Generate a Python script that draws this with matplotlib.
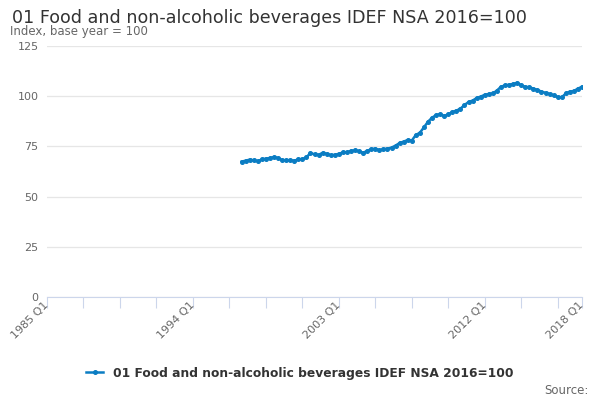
import matplotlib
matplotlib.use("Agg")
import matplotlib.pyplot as plt
import matplotlib.transforms as mtransforms
import numpy as np

title = "01 Food and non-alcoholic beverages IDEF NSA 2016=100"
subtitle = "Index, base year = 100"
series_name = "01 Food and non-alcoholic beverages IDEF NSA 2016=100"

start_year, start_q = 1997, 1
values = [67.4, 67.9, 68.4, 68.0, 67.7, 68.5, 68.9, 69.2, 69.7, 69.2,
          68.2, 68.0, 68.0, 67.9, 68.5, 68.7, 69.5, 71.8, 71.0, 70.8,
          71.8, 71.3, 70.6, 70.8, 71.3, 72.0, 72.0, 72.8, 73.0, 72.6,
          71.8, 72.8, 73.6, 73.9, 73.1, 73.6, 73.9, 74.4, 75.4, 76.7,
          77.4, 78.2, 77.9, 80.7, 81.8, 84.5, 87.3, 89.3, 90.6, 91.1,
          90.1, 91.0, 92.1, 92.8, 93.8, 95.6, 97.1, 97.8, 99.1, 99.8,
          100.7, 101.1, 101.4, 102.8, 104.7, 105.4, 105.7, 106.1, 106.7, 105.4,
          104.7, 104.4, 103.8, 103.1, 102.3, 101.7, 101.1, 100.4, 99.6, 99.4,
          101.4, 102.3, 102.6, 103.8, 104.7]

axis_start = (1985, 1)
axis_end = (2018, 1)
labelled_ticks = ["1985 Q1", "1994 Q1", "2003 Q1", "2012 Q1", "2018 Q1"]
y_ticks = [0, 25, 50, 75, 100, 125]

def qidx(y, q):
    return (y - axis_start[0]) * 4 + (q - axis_start[1])

x0 = qidx(start_year, start_q)
xs = np.arange(x0, x0 + len(values))
xend = qidx(*axis_end)

fig = plt.figure(figsize=(6, 4), dpi=100)
ax = fig.add_axes([47/600, 1-297/400, (582-47)/600, (297-46)/400])

color = "#0b7dc3"
ax.plot(xs, values, color=color, lw=1.8, marker="o", ms=2.6, label=series_name, zorder=3)

ax.set_xlim(0, xend)
ax.set_ylim(0, 125)
ax.set_yticks(y_ticks)
ax.set_yticklabels([str(v) for v in y_ticks])
ax.grid(axis="y", color="#e6e6e6", lw=0.9)
ax.set_axisbelow(True)
for s in ["top", "right", "left"]:
    ax.spines[s].set_visible(False)
ax.spines["bottom"].set_color("#ccd6eb")
ax.tick_params(axis="y", length=0, labelsize=8, labelcolor="#666666", pad=6)

minor = list(range(0, xend, 9)) + [xend]
ax.set_xticks(minor)
lab = []
for t in minor:
    yr = axis_start[0] + t // 4
    q = t % 4 + 1
    s = f"{yr} Q{q}"
    lab.append(s if s in labelled_ticks else "")
ax.set_xticklabels(lab, rotation=45, ha="right", rotation_mode="anchor")
ax.tick_params(axis="x", length=8, color="#ccd6eb", labelsize=8, labelcolor="#666666", pad=-2)
offset = mtransforms.ScaledTranslation(-4/100, 5/100, fig.dpi_scale_trans)
for lbl in ax.get_xticklabels():
    lbl.set_transform(lbl.get_transform() + offset)

fig.text(12/600, 1-18/400, title, fontsize=12.6, color="#333333", va="center", ha="left")
fig.text(10/600, 1-32/400, subtitle, fontsize=8.5, color="#666666", va="center", ha="left")

leg = ax.legend(loc="center", bbox_to_anchor=((300-47)/535, -0.303), frameon=False,
                prop={"size": 8.8, "weight": "bold"}, handlelength=1.4, labelcolor="#333333")
fig.text(589/600, 1-390/400, "Source:", fontsize=8.5, color="#666666", ha="right", va="center")

fig.savefig("out.png", dpi=100)
